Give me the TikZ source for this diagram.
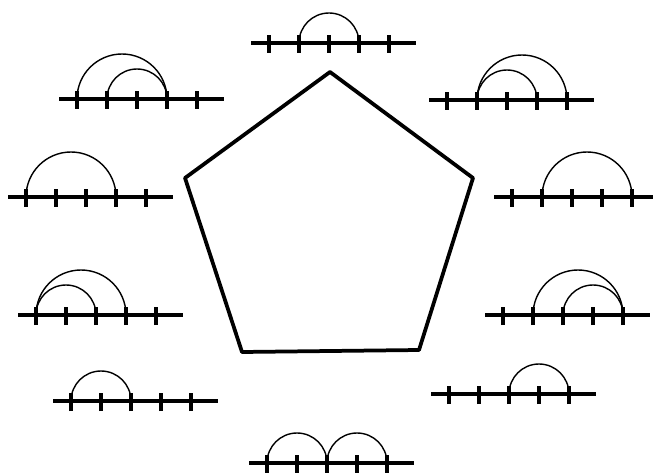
\documentclass[tikz,border=0pt]{standalone}
\usepackage{tikz}
\usetikzlibrary{calc}

\begin{document}
\begin{tikzpicture}[x=0.03cm, y=0.03cm,
          edge/.style={line width=3.2pt, line join=round, line cap=round},
          axis/.style={line width=2.9pt},
          tick/.style={line width=3.3pt},
          chord/.style={line width=1.2pt}
        ]
        \useasboundingbox (0,0) rectangle (653,472);

        % Pentagon
        \coordinate (v1) at (330,400);
        \coordinate (v2) at (473,294);
        \coordinate (v3) at (419,122);
        \coordinate (v4) at (242,120);
        \coordinate (v5) at (185,294);
        \draw[edge] (v1) -- (v2) -- (v3) -- (v4) -- (v5) -- cycle;

        % Chord diagrams: first tick at (x,y), arcs between ticks
        \foreach \id/\x/\y/\arcs in {1/269/429/{2/4}, 2/77/373/{1/4,2/4},
                                     3/447/372/{2/5,2/4}, 4/26/275/{1/4},
                                     5/512/275/{2/5}, 6/36/157/{1/4,1/3},
                                     7/503/157/{2/5,3/5}, 8/71/71/{1/3},
                                     9/449/78/{3/5}, 10/267/9/{1/3,3/5}} {
          \foreach \k in {1,...,5}
            \coordinate (d\id-\k) at (\x+30*\k-30, \y);
          \draw[axis] ($(d\id-1)+(-18,0)$) -- ($(d\id-5)+(27,0)$);
          \foreach \k in {1,...,5}
            \draw[tick] ($(d\id-\k)+(0,-10)$) -- ($(d\id-\k)+(0,8)$);
          \foreach \a/\b in \arcs
            \draw[chord] (d\id-\a) arc[start angle=180, end angle=0,
                                        radius=15*(\b-\a)];
        }
      \end{tikzpicture}
\end{document}
